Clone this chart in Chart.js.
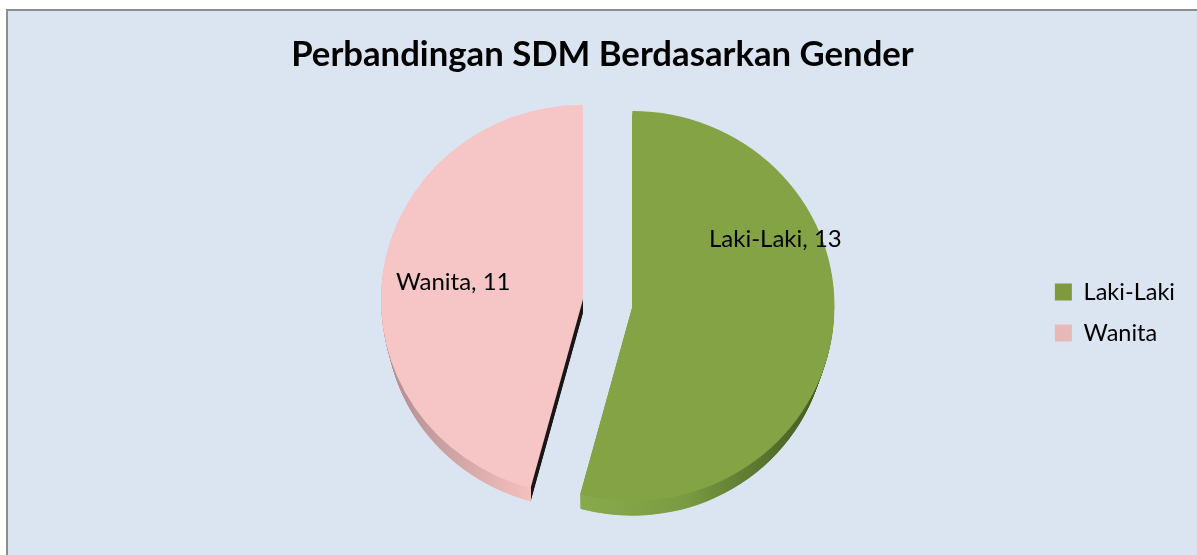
<!DOCTYPE html>
<html>
<head>
<meta charset="utf-8">
<title>Perbandingan SDM Berdasarkan Gender</title>
<style>
  html, body { margin: 0; height: 100%; background: #fff; overflow: hidden; }
  #frame { position: absolute; left: 6px; top: 9px; border-left: 2px solid #8b8e8e; border-top: 2px solid #8b8e8e; background: #dbe5f1; }
  canvas { display: block; }
</style>
<script src="https://cdn.jsdelivr.net/npm/chart.js@4/dist/chart.umd.min.js"></script>
</head>
<body>
<div id="frame"><canvas id="chart" width="1189" height="544"></canvas></div>
<script>
// ── Data ───────────────────────────────────────────────────────
const categories   = ['Laki-Laki', 'Wanita'];
const values       = [13, 11];
const sliceColors  = ['#84a345', '#f5c6c5'];
const legendColors = ['#7f9a3d', '#e6b9b8'];
const titleText    = 'Perbandingan SDM Berdasarkan Gender';

// ── Look of the fake 3D pie ────────────────────────────────────
const FONT      = 'Lato';
const OFFSET    = 100;   // Chart.js moves a slice by offset / 4
const RADIUS    = 202;
const SQUEEZE   = 0.965; // pie is tilted a little
const CUT_DEPTH = 14;
const LEGEND_DROP = 52;
const labelPos  = [[701, 228], [388, 271]];

// extra radius pathArc gives a slice because of its offset
function radiusGrowth(el) {
  return OFFSET / 4 * (1 - Math.sin(Math.min(Math.PI, el.circumference)));
}

// pathArc also trims the angle at both ends by this much
function angleInset(el) {
  return radiusGrowth(el) / (2 * Math.PI * (RADIUS));
}

function sliceGeometry(el) {
  const mid = (el.startAngle + el.endAngle) / 2;
  const off = OFFSET / 4;
  const inset = angleInset(el);
  return {
    cx: el.x + Math.cos(mid) * off,
    cy: el.y + Math.sin(mid) * off,
    r: RADIUS,
    start: el.startAngle + inset,
    end: el.endAngle - inset,
  };
}

function fillSlice(ctx, el, dy, shrink = 0) {
  const { cx, cy, r, start, end } = sliceGeometry(el);
  ctx.beginPath();
  ctx.moveTo(cx, cy + dy);
  ctx.arc(cx, cy + dy, r - shrink, start, end);
  ctx.closePath();
  ctx.fill();
}

// rim: slice copies that slide down and shrink, so it tapers out at the sides
function fillRim(ctx, el, drop, shrink) {
  for (let i = Math.ceil(drop); i > 0; i--) {
    const t = i / Math.ceil(drop);
    fillSlice(ctx, el, t * drop, t * shrink);
  }
}

function rimGradient(ctx, stops, x0, x1) {
  const g = ctx.createLinearGradient(x0, 0, x1, 0);
  stops.forEach(([p, c]) => g.addColorStop(p, c));
  return g;
}

function withClip(ctx, x, y, w, h, fn) {
  ctx.save();
  ctx.beginPath();
  ctx.rect(x, y, w, h);
  ctx.clip();
  fn();
  ctx.restore();
}

const pie3d = {
  id: 'pie3d',
  afterDatasetsUpdate(chart) {
    // undo pathArc's growth and trim so both slices are true sectors of one radius
    for (const el of chart.getDatasetMeta(0).data) {
      const inset = angleInset(el);
      el.outerRadius = RADIUS - radiusGrowth(el);
      el.startAngle -= inset;
      el.endAngle += inset;
    }
  },
  afterLayout(chart) {
    // the title is centred on the whole frame, not on the padded box
    chart.titleBlock.left = 0;
    chart.titleBlock.right = chart.width;
    chart.legend.top += LEGEND_DROP;
    chart.legend.bottom += LEGEND_DROP;
  },
  beforeDatasetsDraw(chart) {
    const { ctx, width, height } = chart;
    const [green, pink] = chart.getDatasetMeta(0).data;
    ctx.save();
    ctx.translate(0, green.y);
    ctx.scale(1, SQUEEZE);
    ctx.translate(0, -green.y);

    // green rim, with a square end at the slice corner
    ctx.fillStyle = rimGradient(ctx, [[0, '#88aa4c'], [0.4, '#7b9b43'], [0.75, '#536f2b'], [1, '#3f5520']], 575, 830);
    fillRim(ctx, green, 23, 7.7);
    const g = sliceGeometry(green);
    withClip(ctx, g.cx + g.r * Math.cos(g.end), g.cy, 60, height, () => {
      for (let d = 15; d > 0; d--) fillSlice(ctx, green, d);
    });

    // pink cut face right of the slice corner, pink rim left of it
    const { cx, cy, r, start } = sliceGeometry(pink);
    const cornerX = cx + r * Math.cos(start);
    withClip(ctx, cornerX, cy, width, height, () => {
      ctx.fillStyle = '#1d1718';
      for (let d = CUT_DEPTH; d > 0; d--) fillSlice(ctx, pink, d);
    });
    withClip(ctx, 0, 0, cornerX, height, () => {
      ctx.fillStyle = rimGradient(ctx, [[0, '#b08e90'], [0.45, '#cfa4a5'], [1, '#f7c0bf']], 380, 525);
      fillRim(ctx, pink, 18.7, 4.7);
    });
  },
  afterDatasetsDraw(chart) {
    const { ctx } = chart;
    ctx.restore();
    ctx.save();
    ctx.font = `24px ${FONT}`;
    ctx.fillStyle = '#000';
    ctx.textAlign = 'left';
    ctx.textBaseline = 'middle';
    categories.forEach((c, i) => ctx.fillText(`${c}, ${values[i]}`, labelPos[i][0], labelPos[i][1]));
    ctx.restore();
  },
};

new Chart(document.getElementById('chart'), {
  type: 'pie',
  data: {
    labels: categories,
    datasets: [{ data: values, backgroundColor: sliceColors, borderWidth: 0, offset: OFFSET }],
  },
  plugins: [pie3d],
  options: {
    responsive: false,
    animation: false,
    radius: RADIUS - OFFSET / 4,
    layout: { padding: { left: 170, right: 12, top: 0, bottom: 45 } },
    plugins: {
      tooltip: { enabled: false },
      title: {
        display: true,
        text: titleText,
        color: '#000',
        font: { family: FONT, size: 34.7, weight: 'bold' },
        padding: { top: 23, bottom: 20 },
      },
      legend: {
        position: 'right',
        labels: {
          boxWidth: 17,
          boxHeight: 17,
          padding: 17.5,
          color: '#000',
          font: { family: FONT, size: 23.5 },
          generateLabels: () => categories.map((c, i) => ({
            text: c, fillStyle: legendColors[i], strokeStyle: legendColors[i], lineWidth: 0, index: i,
          })),
        },
      },
    },
  },
});
</script>
</body>
</html>
